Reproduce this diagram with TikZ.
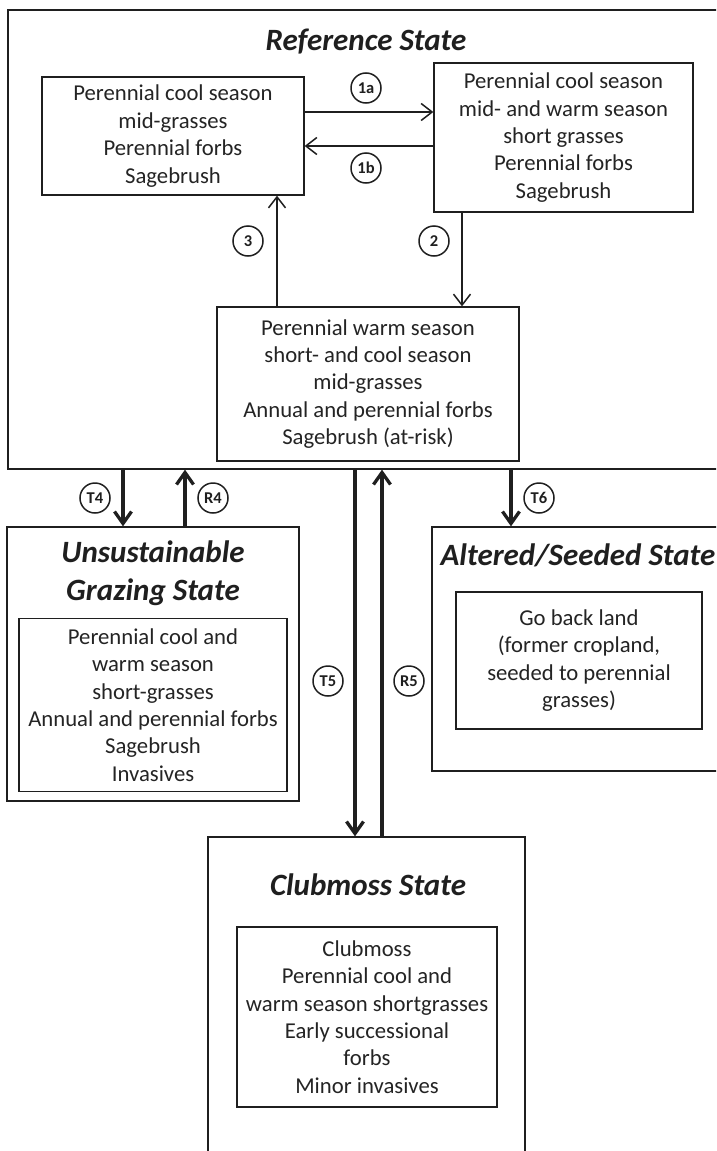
\documentclass[tikz,border=0pt]{standalone}
\usepackage{fontspec}
\setmainfont{Carlito}
\usetikzlibrary{arrows.meta}

\definecolor{ink}{gray}{0.12}
\definecolor{txt}{gray}{0.14}

\tikzset{
  statebox/.style={draw=ink, line width=1.3pt, rectangle, inner sep=0pt,
    align=center, text=txt, font=\fontsize{22.7}{27.4}\selectfont},
  container/.style={draw=ink, line width=1.3pt, rectangle, inner sep=0pt},
  titletext/.style={text=ink, align=center,
    font=\fontsize{31}{38}\selectfont\bfseries\itshape},
  tag/.style={circle, draw=ink, line width=1.5pt, minimum size=30pt,
    inner sep=0pt, text=ink, font=\fontsize{16.5}{16.5}\selectfont\bfseries},
  lightarrow/.style={draw=ink, line width=1.5pt,
    -{Straight Barb[length=11pt,width=17pt]}},
  heavyarrow/.style={draw=ink, line width=3.3pt,
    -{Straight Barb[length=12pt,width=17pt]}}
}

\begin{document}
\begin{tikzpicture}[x=1pt,y=-1pt]
\useasboundingbox (0,0) rectangle (716,1151);
\clip (0,0) rectangle (716,1151);
\fill[white] (0,0) rectangle (716,1151);

% ---- Reference State ----
\node[container, minimum width=732pt, minimum height=459pt] (ref) at (374,239.5) {};
\node[titletext] (refT) at (366,42) {Reference State};

\node[statebox, minimum width=262pt, minimum height=118pt] (A) at (173,136)
  {Perennial cool season\\mid-grasses\\Perennial forbs\\Sagebrush};
\node[statebox, minimum width=259pt, minimum height=149pt] (B) at (563.5,137.5)
  {Perennial cool season\\mid- and warm season\\short grasses\\Perennial forbs\\Sagebrush};
\node[statebox, minimum width=302pt, minimum height=154pt] (C) at (368,384)
  {Perennial warm season\\short- and cool season\\mid-grasses\\Annual and perennial forbs\\Sagebrush (at-risk)};

% ---- Unsustainable Grazing State ----
\node[container, minimum width=292pt, minimum height=274pt] (D) at (153,664) {};
\node[titletext] (DT) at (153,573) {Unsustainable\\Grazing State};
\node[statebox, minimum width=268pt, minimum height=173pt] (D2) at (153,705)
  {Perennial cool and\\warm season\\short-grasses\\Annual and perennial forbs\\Sagebrush\\Invasives};

% ---- Altered/Seeded State ----
\node[container, minimum width=294pt, minimum height=244pt] (E) at (579,649) {};
\node[titletext] (ET) at (578,555) {Altered/Seeded State};
\node[statebox, minimum width=246pt, minimum height=137pt] (E2) at (579,660.5)
  {Go back land\\(former cropland,\\seeded to perennial\\grasses)};

% ---- Clubmoss State ----
\node[container, minimum width=317pt, minimum height=333pt] (F) at (366.5,1003.5) {};
\node[titletext] (FT) at (368,885) {Clubmoss State};
\node[statebox, minimum width=260pt, minimum height=180pt] (F2) at (367,1017)
  {Clubmoss\\Perennial cool and\\warm season shortgrasses\\Early successional\\forbs\\Minor invasives};

% ---- transitions within the reference state ----
\draw[lightarrow] (A.east |- 0,112) -- (B.west |- 0,112);
\draw[lightarrow] (B.west |- 0,146) -- (A.east |- 0,146);
\draw[lightarrow] (B.south -| 462,0) -- (C.north -| 462,0);
\draw[lightarrow] (C.north -| 277,0) -- (A.south -| 277,0);

% ---- transitions between states ----
\draw[heavyarrow] (ref.south -| 123,0) -- (D.north -| 123,0);
\draw[heavyarrow] (D.north -| 185,0) -- (ref.south -| 185,0);
\draw[heavyarrow] (ref.south -| 355,0) -- (F.north -| 355,0);
\draw[heavyarrow] (F.north -| 382,0) -- (ref.south -| 382,0);
\draw[heavyarrow] (ref.south -| 511,0) -- (E.north -| 511,0);

% ---- pathway labels ----
\node[tag] (l1a) at (366,88) {1a};
\node[tag] (l1b) at (366,168) {1b};
\node[tag] (l2) at (434,241) {2};
\node[tag] (l3) at (248,241) {3};
\node[tag] (lT4) at (95,498) {T4};
\node[tag] (lR4) at (213,498) {R4};
\node[tag] (lT6) at (539,498) {T6};
\node[tag] (lT5) at (328,681) {T5};
\node[tag] (lR5) at (409,681) {R5};
\end{tikzpicture}
\end{document}
